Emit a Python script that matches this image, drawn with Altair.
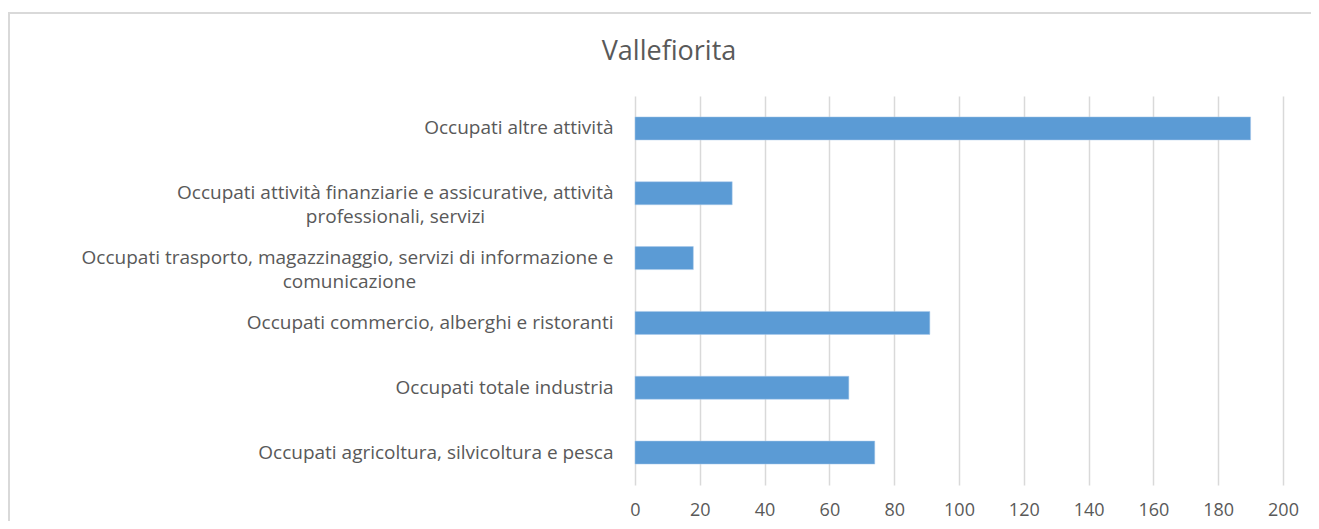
import altair as alt
import pandas as pd

title_text = "Vallefiorita"
categories = [
    "Occupati altre attività",
    "Occupati attività finanziarie e assicurative, attività|professionali, servizi",
    "Occupati trasporto, magazzinaggio, servizi di informazione e|comunicazione",
    "Occupati commercio, alberghi e ristoranti",
    "Occupati totale industria",
    "Occupati agricoltura, silvicoltura e pesca",
]
values = [190, 30, 18, 91, 66, 74]
x_ticks = [0, 20, 40, 60, 80, 100, 120, 140, 160, 180, 200]

# visual centring of wrapped second lines (no-break spaces appended, kept by a zero-width space)
line2_pad = {1: 26, 2: 40}
NBSP = "\u00a0"
ZW = "\u200b"
shown = []
for i, c in enumerate(categories):
    if "|" in c:
        a, b = c.split("|")
        shown.append(a + "|" + b + NBSP * line2_pad.get(i, 0) + ZW)
    else:
        shown.append(c)

df = pd.DataFrame({"cat": shown, "val": values})
FONT = "Open Sans"
TXT = "#595959"
GRID = "#d9d9d9"

bars = alt.Chart(df).mark_bar(color="#5b9bd5", stroke="#a9c8ea", strokeWidth=0.5).encode(
    x=alt.X("val:Q", scale=alt.Scale(domain=[0, 200], nice=False),
            axis=alt.Axis(values=x_ticks, title=None, grid=True, gridColor=GRID, gridWidth=1.5,
                          domain=False, ticks=False, tickSize=0, labelPadding=16, labelFlush=False,
                          labelFontSize=18, labelColor=TXT, labelFont=FONT)),
    y=alt.Y("cat:N", sort=shown,
            scale=alt.Scale(paddingInner=0.645, paddingOuter=0.3225),
            axis=alt.Axis(title=None, domain=False, ticks=False, tickSize=0, labelPadding=22,
                          labelFontSize=19, labelColor=TXT, labelFont=FONT, labelLimit=1000,
                          labelExpr="split(datum.label, '|')", labelLineHeight=24)),
)

frame_df = pd.DataFrame({"k": [0]})
frame = alt.Chart(frame_df).mark_rect(fill=None, stroke=GRID, strokeWidth=2).encode(
    x=alt.value(-626), x2=alt.value(720), y=alt.value(-83), y2=alt.value(460)
)

chart = alt.layer(frame, bars).properties(
    width=648, height=389,
    title=alt.TitleParams(title_text, font=FONT, fontSize=27, fontWeight="normal", color=TXT,
                          anchor="middle", frame="group", dx=-290, dy=75, offset=0,
                          baseline="alphabetic"),
    autosize=alt.AutoSizeParams(type="none"),
    padding={"left": 627, "top": 88, "right": 28, "bottom": 36},
).configure_view(stroke=None)

chart.save("out.html", embed_options={"renderer": "svg", "actions": False})
